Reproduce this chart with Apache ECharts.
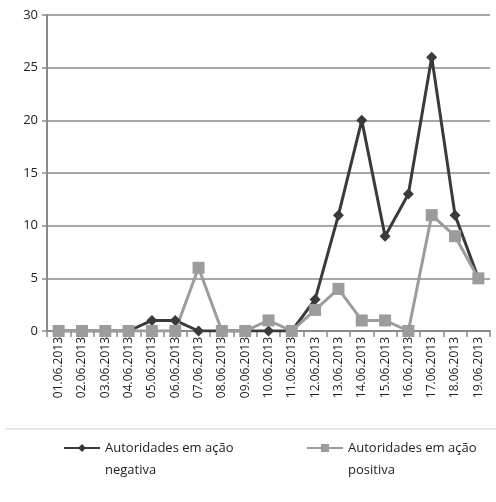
<!DOCTYPE html>
<html>
<head>
<meta charset="utf-8">
<script src="https://cdn.jsdelivr.net/npm/echarts@6/dist/echarts.min.js"></script>
<style>
  html, body { margin: 0; padding: 0; background: #fff; }
  #main { width: 496px; height: 502px; }
</style>
</head>
<body>
<div id="main"></div>
<script>
var dates = ['01.06.2013', '02.06.2013', '03.06.2013', '04.06.2013', '05.06.2013', '06.06.2013',
    '07.06.2013', '08.06.2013', '09.06.2013', '10.06.2013', '11.06.2013', '12.06.2013',
    '13.06.2013', '14.06.2013', '15.06.2013', '16.06.2013', '17.06.2013', '18.06.2013', '19.06.2013'];
var negativa = [0, 0, 0, 0, 1, 1, 0, 0, 0, 0, 0, 3, 11, 20, 9, 13, 26, 11, 5];
var positiva = [0, 0, 0, 0, 0, 0, 6, 0, 0, 1, 0, 2, 4, 1, 1, 0, 11, 9, 5];
var nomeNeg = 'Autoridades em ação\nnegativa';
var nomePos = 'Autoridades em ação\npositiva';

var fonte = '"Open Sans", "Noto Sans", sans-serif';
var chart = echarts.init(document.getElementById('main'));
var textoLegenda = { fontFamily: fonte, fontSize: 13, color: '#222', lineHeight: 22 };
// linha vazia no inicio: a 1a linha do texto fica ao nivel do icone
var fmtLegenda = function (name) { return ' \n' + name; };
var option = {
    animation: false,
    backgroundColor: '#fff',
    grid: { left: 47, right: 6, top: 15, bottom: 171 },
    legend: [{
        data: [nomeNeg],
        left: 63, top: 415,
        itemWidth: 36, itemHeight: 10, padding: 0,
        formatter: fmtLegenda,
        textStyle: textoLegenda
    }, {
        data: [nomePos],
        left: 306, top: 415,
        itemWidth: 36, itemHeight: 10, padding: 0,
        formatter: fmtLegenda,
        textStyle: textoLegenda
    }],
    graphic: [{
        type: 'line',
        shape: { x1: 5, y1: 429, x2: 496, y2: 429 },
        style: { stroke: '#d0d0d0', lineWidth: 1 }
    }],
    xAxis: {
        type: 'category',
        data: dates,
        boundaryGap: true,
        axisLine: { lineStyle: { color: '#8a8a8a', width: 2 } },
        axisTick: { show: true, length: 6, lineStyle: { color: '#8a8a8a', width: 1.5 } },
        axisLabel: { rotate: 90, interval: 0, fontFamily: fonte, fontSize: 12, color: '#222', margin: 6 }
    },
    yAxis: {
        type: 'value',
        min: 0, max: 30, interval: 5,
        axisLine: { show: true, lineStyle: { color: '#8a8a8a', width: 2 } },
        axisTick: { show: true, length: 5, lineStyle: { color: '#8a8a8a', width: 1.5 } },
        axisLabel: { fontFamily: fonte, fontSize: 13, color: '#222', margin: 9 },
        splitLine: { lineStyle: { color: '#8a8a8a', width: 1.5 } }
    },
    series: [{
        name: nomeNeg,
        type: 'line',
        data: negativa,
        symbol: 'diamond',
        symbolSize: 11,
        lineStyle: { color: '#3a3a3a', width: 3 },
        itemStyle: { color: '#3a3a3a' }
    }, {
        name: nomePos,
        type: 'line',
        data: positiva,
        symbol: 'rect',
        symbolSize: 12,
        lineStyle: { color: '#9c9c9c', width: 3 },
        itemStyle: { color: '#9c9c9c' }
    }]
};
chart.setOption(option);
</script>
</body>
</html>
